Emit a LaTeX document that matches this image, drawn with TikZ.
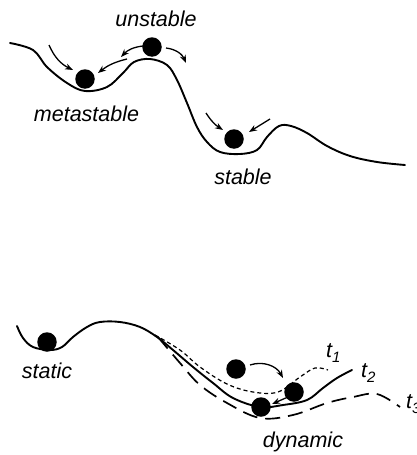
\documentclass[tikz,border=0pt]{standalone}
\usepackage{fontspec}
\setmainfont{Liberation Sans}
\usetikzlibrary{arrows.meta}
\begin{document}
\begin{tikzpicture}[x=1pt,y=-1pt,
  ground/.style={line width=1.9pt, line cap=round},
  ball/.style={circle, fill=black, minimum size=19.5pt, inner sep=0pt},
  arr/.style={line width=1.3pt, -{Stealth[length=8pt,width=6pt]}},
  lbl/.style={font=\fontsize{21.5}{23}\selectfont\itshape, inner sep=0pt},
]
\useasboundingbox (0,0) rectangle (416,455);
% ---------- top landscape ----------
\draw[ground] plot[smooth, tension=0.6] coordinates {
  (10,43) (33,50) (47,67) (67,83) (85,91) (107,87) (123,73) (134,62) (150,59)
  (167,65) (177,80) (187,103) (197,127) (207,142) (220,152) (240,154) (257,150)
  (267,137) (279,126) (291,126) (307,133) (327,146) (350,156) (377,162) (405,165)};
\node[ball] (un) at (152,47) {};
\node[ball] (me) at (85,79) {};
\node[ball] (st) at (234,139) {};
\node[lbl, anchor=base] (lun) at (156,26) {unstable};
\node[lbl, anchor=base] (lme) at (86.5,121) {metastable};
\node[lbl, anchor=base] (lst) at (243,184) {stable};
\coordinate (a1s) at (49,45);  \coordinate (a1e) at (73,70);
\coordinate (a2s) at (143,46); \coordinate (a2e) at (121,57);
\coordinate (a3s) at (127,59); \coordinate (a3e) at (98,73);
\coordinate (a4s) at (166,48); \coordinate (a4e) at (186,63);
\coordinate (a5s) at (206,113); \coordinate (a5e) at (223,130);
\coordinate (a6s) at (270,119); \coordinate (a6e) at (249,132);
\draw[arr] (a1s) to[bend right=20] (a1e);
\draw[arr] (a2s) to[bend right=20] (a2e);
\draw[arr] (a3s) to[bend right=12] (a3e);
\draw[arr] (a4s) to[bend left=30] (a4e);
\draw[arr] (a5s) to[bend right=12] (a5e);
\draw[arr] (a6s) -- (a6e);
% ---------- bottom landscape ----------
\draw[ground] plot[smooth, tension=0.6] coordinates {
  (17,326) (23,338) (33,347) (50,350) (62,347) (73,337) (87,327) (100,322)
  (120,322) (140,327) (157,337) (173,350) (193,367) (213,383) (233,398) (260,407)
  (283,405) (307,400) (323,388) (337,378) (352,370)};
\draw[line width=1.2pt, dash pattern=on 4pt off 3pt] plot[smooth, tension=0.6] coordinates {
  (155,335) (180,350) (200,367) (227,384) (253,392) (278,392) (300,377) (315,368) (328,370)};
\draw[line width=1.7pt, dash pattern=on 15pt off 8pt] plot[smooth, tension=0.6] coordinates {
  (158,337) (180,363) (200,385) (227,403) (260,418) (293,415) (327,403) (353,397)
  (377,394) (400,407)};
\node[ball] (sa) at (47,342) {};
\node[ball] (d1) at (236,369) {};
\node[ball] (d2) at (294,392) {};
\node[ball] (d3) at (261,407) {};
\node[lbl, anchor=base] (lsa) at (47,378) {static};
\node[lbl, anchor=base] (ldy) at (303,447) {dynamic};
\node[lbl, anchor=base west] (t1) at (326,357) {t\raisebox{-5pt}{\fontsize{15}{15}\selectfont 1}};
\node[lbl, anchor=base west] (t2) at (361,377) {t\raisebox{-5pt}{\fontsize{15}{15}\selectfont 2}};
\node[lbl, anchor=base west] (t3) at (406,408) {t\raisebox{-5pt}{\fontsize{15}{15}\selectfont 3}};
\coordinate (b1s) at (250,365); \coordinate (b1e) at (283,378);
\coordinate (b2s) at (288,397); \coordinate (b2e) at (272,404);
\draw[arr] (b1s) to[bend left=40] (b1e);
\draw[arr] (b2s) -- (b2e);
\end{tikzpicture}
\end{document}
